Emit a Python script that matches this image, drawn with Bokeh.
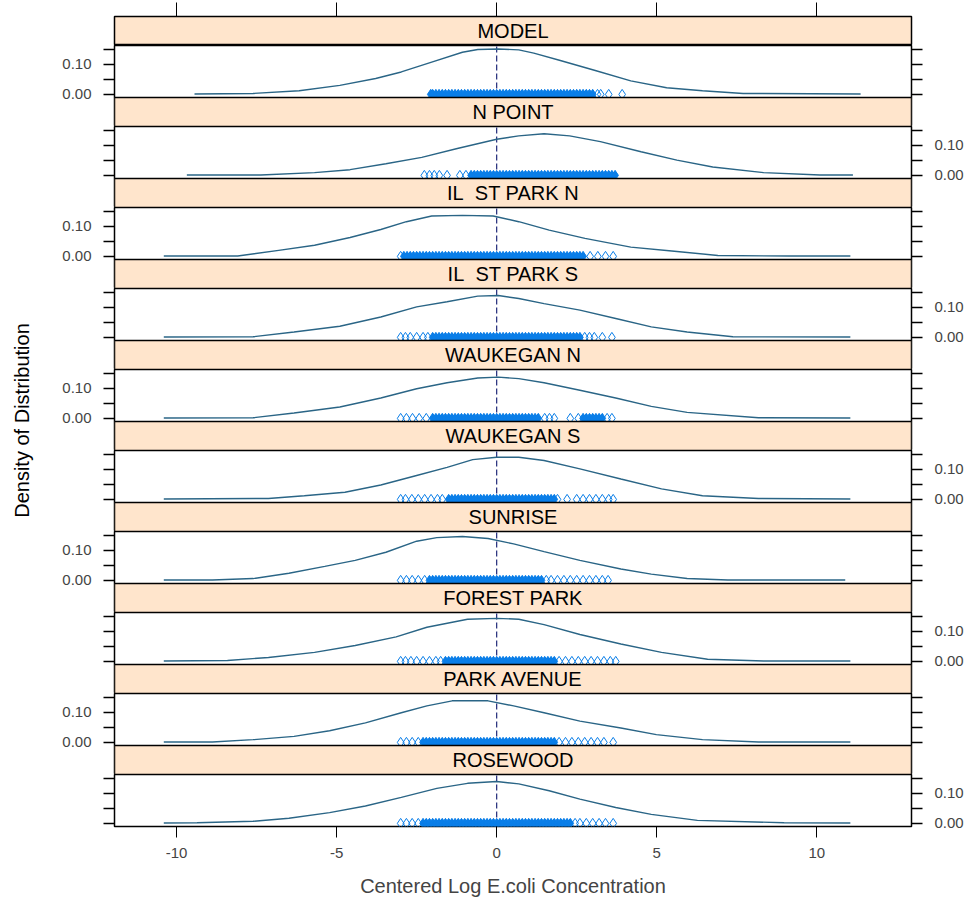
import math
from bokeh.plotting import figure
from bokeh.models import (Range1d, LinearAxis, FixedTicker, NumeralTickFormatter,
                          BoxAnnotation, Label)
from bokeh.layouts import column, row
from bokeh.embed import file_html
from bokeh.resources import INLINE

# ---------------- data ----------------
sites = ["MODEL", "N POINT", "IL\u00a0 ST PARK N", "IL\u00a0 ST PARK S", "WAUKEGAN N",
         "WAUKEGAN S", "SUNRISE", "FOREST PARK", "PARK AVENUE", "ROSEWOOD"]

x_ticks = [-10, -5, 0, 5, 10]
y_ticks = [0.0, 0.10]
y_minor = [0.05, 0.15]
y_all = [0.0, 0.05, 0.10, 0.15]
ref_x = [0.0]

model_x = [-9.44, -7.61, -6.17, -4.90, -3.78, -2.98, -2.03, -1.07, -0.59, 0.05, 0.69, 1.16, 1.96, 3.08, 4.19, 5.31, 6.43, 7.70, 11.37]
model_y = [0.001, 0.003, 0.012, 0.030, 0.053, 0.075, 0.108, 0.141, 0.150, 0.152, 0.149, 0.138, 0.114, 0.080, 0.045, 0.022, 0.012, 0.003, 0.001]
npoint_x = [-9.68, -7.37, -5.69, -4.58, -3.46, -2.34, -1.23, 0.0, 0.69, 1.48, 2.28, 3.24, 4.51, 5.63, 6.75, 8.34, 10.10, 11.13]
npoint_y = [0.001, 0.001, 0.009, 0.019, 0.039, 0.060, 0.090, 0.121, 0.132, 0.139, 0.132, 0.113, 0.079, 0.051, 0.028, 0.009, 0.001, 0.001]
ilspn_x = [-10.40, -8.09, -6.81, -5.69, -4.58, -3.62, -2.82, -2.03, -1.07, -0.11, 0.69, 1.64, 2.76, 4.19, 5.47, 6.91, 9.14, 11.05]
ilspn_y = [0.001, 0.001, 0.020, 0.037, 0.063, 0.090, 0.116, 0.135, 0.137, 0.135, 0.116, 0.088, 0.060, 0.031, 0.018, 0.003, 0.001, 0.001]
ilsps_x = [-10.40, -7.61, -6.33, -4.90, -3.62, -2.50, -1.55, -0.59, 0.05, 0.69, 1.48, 2.60, 3.72, 4.83, 5.95, 7.38, 11.05]
ilsps_y = [0.001, 0.002, 0.018, 0.037, 0.068, 0.102, 0.119, 0.138, 0.140, 0.130, 0.113, 0.091, 0.063, 0.035, 0.018, 0.002, 0.001]
waukn_x = [-10.40, -7.61, -6.33, -4.90, -3.62, -2.50, -1.55, -0.59, 0.05, 0.69, 1.48, 2.60, 3.72, 4.83, 5.95, 8.18, 11.05]
waukn_y = [0.001, 0.002, 0.018, 0.038, 0.068, 0.099, 0.119, 0.135, 0.138, 0.133, 0.119, 0.094, 0.068, 0.040, 0.020, 0.002, 0.001]
wauks_x = [-10.40, -7.13, -6.01, -4.74, -3.62, -2.50, -1.55, -0.75, 0.0, 0.69, 1.48, 2.60, 3.88, 5.15, 6.43, 8.18, 11.05]
wauks_y = [0.001, 0.003, 0.012, 0.024, 0.048, 0.080, 0.107, 0.133, 0.141, 0.141, 0.130, 0.102, 0.068, 0.035, 0.012, 0.003, 0.001]
sunrise_x = [-10.40, -8.88, -7.61, -6.49, -5.37, -4.42, -3.46, -2.50, -1.87, -1.07, -0.27, 0.53, 1.48, 2.60, 3.88, 4.83, 5.95, 7.22, 10.89]
sunrise_y = [0.001, 0.001, 0.006, 0.024, 0.047, 0.067, 0.094, 0.131, 0.143, 0.147, 0.140, 0.122, 0.096, 0.067, 0.038, 0.021, 0.006, 0.001, 0.001]
forest_x = [-10.40, -8.41, -7.13, -5.69, -4.42, -3.14, -2.18, -0.91, 0.0, 0.69, 1.48, 2.60, 3.88, 5.15, 6.59, 8.34, 11.05]
forest_y = [0.001, 0.003, 0.013, 0.030, 0.053, 0.082, 0.114, 0.141, 0.144, 0.141, 0.123, 0.090, 0.058, 0.030, 0.007, 0.001, 0.001]
parkav_x = [-10.40, -8.88, -7.61, -6.33, -5.22, -4.10, -2.98, -2.18, -1.39, -0.27, 0.53, 1.48, 2.60, 3.88, 4.99, 6.43, 8.18, 11.05]
parkav_y = [0.001, 0.001, 0.009, 0.020, 0.039, 0.065, 0.099, 0.122, 0.139, 0.139, 0.122, 0.099, 0.071, 0.048, 0.026, 0.009, 0.001, 0.001]
rose_x = [-10.40, -9.36, -7.61, -6.49, -5.22, -4.10, -2.98, -1.87, -0.91, 0.0, 0.69, 1.64, 2.60, 3.72, 4.83, 6.27, 8.98, 11.05]
rose_y = [0.001, 0.002, 0.007, 0.017, 0.036, 0.058, 0.087, 0.117, 0.134, 0.140, 0.132, 0.109, 0.081, 0.053, 0.030, 0.010, 0.002, 0.001]

# observations per site: densely packed values (core) and isolated values (tails)
model_core = [-2.06, -2.0, -1.9, -1.8, -1.7, -1.6, -1.5, -1.4, -1.3, -1.2, -1.1, -1.0, -0.9, -0.8, -0.7, -0.6, -0.5, -0.4, -0.3, -0.2, -0.1,
              0.0, 0.1, 0.2, 0.3, 0.4, 0.5, 0.6, 0.7, 0.8, 0.9, 1.0, 1.1, 1.2, 1.3, 1.4, 1.5, 1.6, 1.7, 1.8, 1.9, 2.0, 2.1, 2.2, 2.3, 2.4,
              2.5, 2.6, 2.7, 2.8, 2.9, 3.0]
model_tail = [3.15, 3.25, 3.5, 3.92]
npoint_core = [-0.8, -0.7, -0.6, -0.5, -0.4, -0.3, -0.2, -0.1,
               0.0, 0.1, 0.2, 0.3, 0.4, 0.5, 0.6, 0.7, 0.8, 0.9, 1.0, 1.1, 1.2, 1.3, 1.4, 1.5, 1.6, 1.7, 1.8, 1.9, 2.0, 2.1, 2.2, 2.3,
               2.4, 2.5, 2.6, 2.7, 2.8, 2.9, 3.0, 3.1, 3.2, 3.3, 3.4, 3.5, 3.6, 3.7]
npoint_tail = [-2.26, -2.1, -1.95, -1.79, -1.55, -1.15, -0.96]
ilspn_core = [-2.9, -2.8, -2.7, -2.6, -2.5, -2.4, -2.3, -2.2, -2.1, -2.0, -1.9, -1.8, -1.7, -1.6, -1.5, -1.4, -1.3, -1.2, -1.1,
              -1.0, -0.9, -0.8, -0.7, -0.6, -0.5, -0.4, -0.3, -0.2, -0.1, 0.0, 0.1, 0.2, 0.3, 0.4, 0.5, 0.6, 0.7, 0.8, 0.9, 1.0,
              1.1, 1.2, 1.3, 1.4, 1.5, 1.6, 1.7, 1.8, 1.9, 2.0, 2.1, 2.2, 2.3, 2.4, 2.5, 2.6, 2.7]
ilspn_tail = [-3.0, 2.92, 3.16, 3.4, 3.64]
ilsps_core = [-2.0, -1.9, -1.8, -1.7, -1.6, -1.5, -1.4, -1.3, -1.2, -1.1, -1.0, -0.9, -0.8,
              -0.7, -0.6, -0.5, -0.4, -0.3, -0.2, -0.1, 0.0, 0.1, 0.2, 0.3, 0.4, 0.5, 0.6, 0.7, 0.8, 0.9, 1.0, 1.1, 1.2, 1.3, 1.4,
              1.5, 1.6, 1.7, 1.8, 1.9, 2.0, 2.1, 2.2, 2.3, 2.4, 2.5, 2.6]
ilsps_tail = [-3.0, -2.85, -2.7, -2.5, -2.3, -2.15, 2.75, 2.9, 3.05, 3.3, 3.6]
waukn_core = [-2.0, -1.9, -1.8, -1.7, -1.6, -1.5, -1.4, -1.3, -1.2, -1.1, -1.0, -0.9, -0.8, -0.7,
              -0.6, -0.5, -0.4, -0.3, -0.2, -0.1, 0.0, 0.1, 0.2, 0.3, 0.4, 0.5, 0.6, 0.7, 0.8, 0.9, 1.0, 1.1, 1.2, 1.3,
              2.7, 2.8, 2.9, 3.0, 3.1, 3.2, 3.3]
waukn_tail = [-3.0, -2.82, -2.63, -2.42, -2.2, 1.5, 1.65, 1.8, 2.3, 2.55, 3.45, 3.6]
wauks_core = [-1.5, -1.4, -1.3, -1.2, -1.1, -1.0, -0.9, -0.8, -0.7, -0.6,
              -0.5, -0.4, -0.3, -0.2, -0.1, 0.0, 0.1, 0.2, 0.3, 0.4, 0.5, 0.6, 0.7, 0.8, 0.9, 1.0, 1.1, 1.2, 1.3, 1.4, 1.5, 1.6,
              1.7, 1.8]
wauks_tail = [-3.0, -2.85, -2.65, -2.45, -2.25, -2.05, -1.85, -1.7, 1.9, 2.2, 2.5, 2.7, 2.9, 3.1, 3.3, 3.5, 3.64]
sunrise_core = [-2.1, -2.0, -1.9, -1.8, -1.7, -1.6, -1.5, -1.4, -1.3, -1.2, -1.1, -1.0, -0.9,
                -0.8, -0.7, -0.6, -0.5, -0.4, -0.3, -0.2, -0.1, 0.0, 0.1, 0.2, 0.3, 0.4, 0.5, 0.6, 0.7, 0.8, 0.9, 1.0, 1.1, 1.2,
                1.3, 1.4]
sunrise_tail = [-3.0, -2.82, -2.64, -2.45, -2.25, 1.55, 1.7, 1.9, 2.1, 2.3, 2.5, 2.7, 2.9, 3.1, 3.3, 3.48]
forest_core = [-1.6, -1.5, -1.4, -1.3, -1.2, -1.1, -1.0, -0.9, -0.8, -0.7,
               -0.6, -0.5, -0.4, -0.3, -0.2, -0.1, 0.0, 0.1, 0.2, 0.3, 0.4, 0.5, 0.6, 0.7, 0.8, 0.9, 1.0, 1.1, 1.2, 1.3, 1.4,
               1.5, 1.6, 1.7, 1.8]
forest_tail = [-3.0, -2.85, -2.68, -2.5, -2.3, -2.1, -1.9, -1.75, 1.95, 2.15, 2.35, 2.55, 2.75, 2.95, 3.15, 3.35, 3.55, 3.72]
parkav_core = [-2.3, -2.2, -2.1, -2.0, -1.9, -1.8, -1.7, -1.6, -1.5, -1.4, -1.3, -1.2, -1.1, -1.0,
               -0.9, -0.8, -0.7, -0.6, -0.5, -0.4, -0.3, -0.2, -0.1, 0.0, 0.1, 0.2, 0.3, 0.4, 0.5, 0.6, 0.7, 0.8, 0.9, 1.0, 1.1,
               1.2, 1.3, 1.4, 1.5, 1.6, 1.7, 1.8]
parkav_tail = [-3.0, -2.82, -2.64, -2.45, 1.95, 2.15, 2.35, 2.55, 2.75, 2.95, 3.15, 3.35, 3.64]
rose_core = [-2.3, -2.2, -2.1, -2.0, -1.9, -1.8, -1.7, -1.6, -1.5, -1.4, -1.3, -1.2, -1.1, -1.0, -0.9,
             -0.8, -0.7, -0.6, -0.5, -0.4, -0.3, -0.2, -0.1, 0.0, 0.1, 0.2, 0.3, 0.4, 0.5, 0.6, 0.7, 0.8, 0.9, 1.0, 1.1, 1.2,
             1.3, 1.4, 1.5, 1.6, 1.7, 1.8, 1.9, 2.0, 2.1, 2.2, 2.3]
rose_tail = [-3.0, -2.82, -2.64, -2.45, 2.45, 2.6, 2.8, 3.0, 3.2, 3.4, 3.64]

curves_x = [model_x, npoint_x, ilspn_x, ilsps_x, waukn_x, wauks_x, sunrise_x, forest_x, parkav_x, rose_x]
curves_y = [model_y, npoint_y, ilspn_y, ilsps_y, waukn_y, wauks_y, sunrise_y, forest_y, parkav_y, rose_y]
cores = [model_core, npoint_core, ilspn_core, ilsps_core, waukn_core, wauks_core, sunrise_core, forest_core, parkav_core, rose_core]
tails = [model_tail, npoint_tail, ilspn_tail, ilsps_tail, waukn_tail, wauks_tail, sunrise_tail, forest_tail, parkav_tail, rose_tail]

# ---------------- styling ----------------
FONT = "Liberation Sans"
STRIP = "#ffe5cc"
LINE_COL = "#2a6586"
PT_COL = "#0a7ee8"
REF_COL = "#1f2878"

X_LO, X_HI = -11.94, 12.96
Y_LO, Y_HI = -0.0105, 0.1635
FRAME_W = 797
PLOT_H = 52
STRIP_H = 29
K = (Y_HI - Y_LO) / PLOT_H
XMID = (X_LO + X_HI) / 2
LB, RB = 74, 61

xr = Range1d(X_LO, X_HI)


def style_x(ax, labels):
    ax.axis_line_color = None
    ax.major_tick_in = 0
    ax.minor_tick_in = 0
    ax.major_tick_line_color = "black"
    ax.minor_tick_line_color = "black"
    if labels:
        ax.ticker = FixedTicker(ticks=x_ticks, minor_ticks=[])
        ax.formatter = NumeralTickFormatter(format="0")
        ax.major_tick_out = 11
        ax.major_label_text_font = FONT
        ax.major_label_text_font_size = "15px"
        ax.major_label_standoff = 10
        ax.axis_label = "Centered Log E.coli Concentration"
        ax.axis_label_text_font = FONT
        ax.axis_label_text_font_size = "20px"
        ax.axis_label_text_font_style = "normal"
        ax.axis_label_standoff = 14
    else:
        ax.ticker = FixedTicker(ticks=[], minor_ticks=x_ticks)
        ax.minor_tick_out = 14
        ax.major_label_standoff = 0


def style_y(ax, show):
    if show:
        ax.ticker = FixedTicker(ticks=y_ticks, minor_ticks=y_minor)
    else:
        ax.ticker = FixedTicker(ticks=[], minor_ticks=y_all)
    ax.formatter = NumeralTickFormatter(format="0.00")
    ax.axis_line_color = None
    ax.major_tick_in = 0
    ax.major_tick_out = 11
    ax.minor_tick_in = 0
    ax.minor_tick_out = 11
    ax.major_tick_line_color = "black"
    ax.minor_tick_line_color = "black"
    ax.major_tick_line_width = 1.3
    ax.minor_tick_line_width = 1.3
    ax.major_label_text_font = FONT
    ax.major_label_text_font_size = "15px"
    ax.major_label_standoff = 12


def strip_label(p, text, y):
    p.add_layout(Label(x=XMID, y=y, text=text, text_align="center", text_baseline="middle",
                       text_font=FONT, text_font_size="20px", text_color="black"))


figs = []

# top strip (MODEL) with top axis
top = figure(frame_width=FRAME_W, frame_height=STRIP_H, x_range=xr, y_range=Range1d(0, 1),
             x_axis_location="above", y_axis_location=None, toolbar_location=None,
             output_backend="svg", min_border_left=LB, min_border_right=RB,
             min_border_top=16, min_border_bottom=0)
top.grid.visible = False
top.background_fill_color = STRIP
top.outline_line_color = "black"
top.outline_line_width = 1.5
style_x(top.xaxis[0], False)
strip_label(top, sites[0], 0.5)
figs.append(top)

for i in range(10):
    last = (i == 9)
    y_lo = Y_LO if last else Y_LO - STRIP_H * K
    p = figure(frame_width=FRAME_W, frame_height=PLOT_H if last else PLOT_H + STRIP_H,
               x_range=xr, y_range=Range1d(y_lo, Y_HI),
               x_axis_location="below" if last else None, y_axis_location="left",
               toolbar_location=None, output_backend="svg",
               min_border_left=LB, min_border_right=RB, min_border_top=0,
               min_border_bottom=87 if last else 0)
    p.grid.visible = False
    p.outline_line_color = "black"
    p.outline_line_width = 1.5
    style_y(p.yaxis[0], i % 2 == 0)
    rax = LinearAxis()
    p.add_layout(rax, "right")
    style_y(rax, i % 2 == 1)
    if last:
        style_x(p.xaxis[0], True)

    p.segment(x0=ref_x, y0=[Y_LO], x1=ref_x, y1=[Y_HI], line_color=REF_COL,
              line_dash="6 3", line_width=1.2)
    p.line(curves_x[i], curves_y[i], line_color=LINE_COL, line_width=1.4)
    core = cores[i]
    tail = tails[i]
    p.scatter(core, [0.0] * len(core), marker="diamond", size=10, fill_color=PT_COL,
              line_color=PT_COL, line_width=1.0)
    p.scatter(tail, [0.0] * len(tail), marker="diamond", size=10, fill_color=None,
              line_color=PT_COL, line_width=1.0)

    if not last:
        p.add_layout(BoxAnnotation(top=Y_LO, fill_color=STRIP, fill_alpha=1.0,
                                   line_color="black", line_width=1.5, line_alpha=1.0))
        strip_label(p, sites[i + 1], (y_lo + Y_LO) / 2)
    figs.append(p)

ylab = figure(width=40, height=913, x_range=Range1d(0, 40), y_range=Range1d(0, 913),
              x_axis_location=None, y_axis_location=None, toolbar_location=None,
              output_backend="svg", min_border=0)
ylab.grid.visible = False
ylab.outline_line_color = None
ylab.add_layout(Label(x=21, y=913 - 420, text="Density of Distribution", angle=math.pi / 2,
                      text_align="center", text_baseline="middle", text_font=FONT,
                      text_font_size="20px", text_color="black"))

layout = row(ylab, column(*figs, spacing=0), spacing=0)
open("out.html", "w").write(file_html(layout, INLINE))
